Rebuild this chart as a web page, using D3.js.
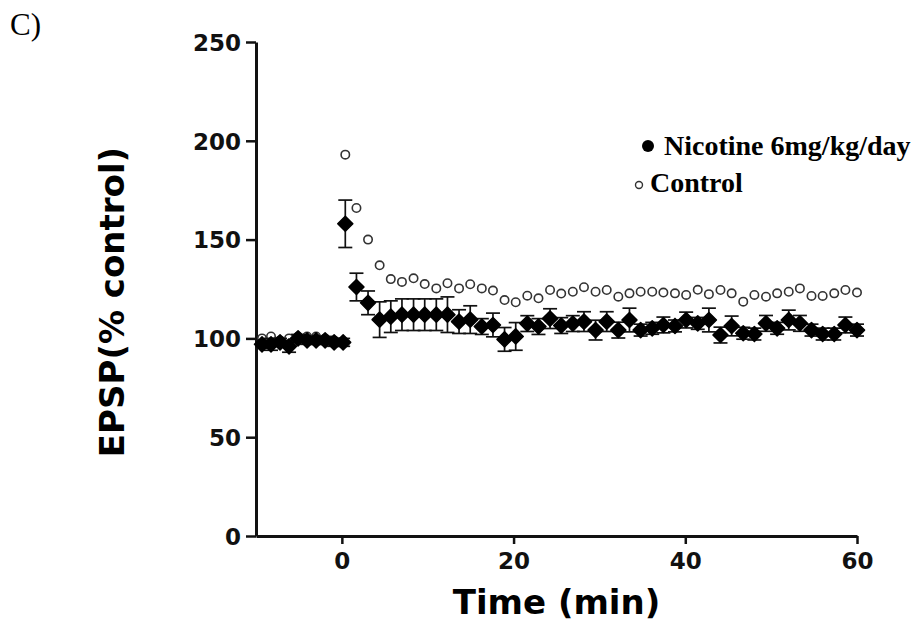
<!DOCTYPE html>
<html>
<head>
<meta charset="utf-8">
<script src="https://cdn.jsdelivr.net/npm/d3@7"></script>
<style>
  body { margin: 0; background: #fff; }
  svg { display: block; }
  .axis path, .axis line { stroke: #111; }
  .axis text { font-family: "DejaVu Sans", sans-serif; font-weight: bold; fill: #111; }
</style>
</head>
<body>
<svg id="chart" width="920" height="631"></svg>
<script>
// baseline period (min) then post-tetanus period (min)
var baseTime = [-9.3, -8.25, -7.2, -6.15, -5.1, -4.05, -3.0, -1.95, -0.9, 0.15];
var postTime = [0.4, 1.7, 3.05, 4.4, 5.7, 7.0, 8.35, 9.65, 11.0, 12.3, 13.65, 14.95, 16.3, 17.6, 18.95,
  20.25, 21.6, 22.9, 24.25, 25.55, 26.9, 28.2, 29.55, 30.85, 32.2, 33.5, 34.8, 36.15, 37.45, 38.8,
  40.1, 41.45, 42.75, 44.1, 45.4, 46.75, 48.05, 49.4, 50.7, 52.05, 53.35, 54.7, 56.0, 57.35, 58.65, 60.0];

var nicBase = [97, 97, 98, 96, 100, 99, 99, 99, 98, 98];
var nicBaseErr = [2, 3, 2, 3, 2, 2, 2, 2, 2, 2];
var nicPost = [158, 126, 118, 109.5, 111, 112, 112, 112, 112, 112, 108.5, 109.5, 106, 106.8, 99.5,
  101, 107.5, 106, 110, 106.5, 107.5, 108.5, 104.2, 108.5, 104.2, 109.3, 104.2, 105.1, 106.8, 106.3,
  109.3, 107.6, 109.3, 101.7, 106.3, 102.6, 102.2, 107.6, 105.1, 109.3, 107.6, 104.2, 102.2, 102.2, 106.8, 104.2];
var nicPostErr = [12, 7, 6, 9, 8, 8, 8, 8, 8, 9, 6, 7, 4, 6, 6,
  7, 4, 4, 5, 4, 4, 5, 5, 5, 4, 6, 3, 3, 4, 3,
  4, 3, 6, 4, 5, 3, 3, 4, 3, 5, 4, 3, 3, 3, 4, 3];

var ctlBase = [100, 101, 99, 100, 101, 101, 101, 100, 99, 98];
var ctlPost = [193, 166, 150, 137, 130, 128.6, 130.4, 127.5, 125.3, 127.9, 125.3, 127.4, 125.3, 124.2, 119.4,
  118.3, 121.6, 120.3, 124.5, 122.7, 123.6, 125.9, 123.6, 124.5, 121.1, 122.8, 123.6, 123.6, 123.2, 122.8,
  122, 124.6, 122.4, 124.5, 122.8, 118.6, 122, 121.1, 122.8, 123.6, 125.3, 121.5, 121.5, 122.8, 124.5, 123.2];

var yTicks = [0, 50, 100, 150, 200, 250];
var xTicks = [0, 20, 40, 60];
var legendLabels = ["Nicotine 6mg/kg/day", "Control"];

var times = baseTime.concat(postTime);
var nicotine = times.map(function(t, i){
  return {t: t, v: nicBase.concat(nicPost)[i], e: nicBaseErr.concat(nicPostErr)[i]};
});
var control = times.map(function(t, i){
  return {t: t, v: ctlBase.concat(ctlPost)[i]};
});

var svg = d3.select("#chart");

var x = d3.scaleLinear().domain([-10, 60]).range([256, 857]);
var y = d3.scaleLinear().domain([0, 250]).range([536, 42]);

// axes
var gy = svg.append("g")
  .attr("class", "axis")
  .attr("transform", "translate(" + x(-10) + ",0)")
  .call(d3.axisLeft(y).tickValues(yTicks).tickSize(10).tickSizeOuter(0).tickPadding(5));
gy.select(".domain").attr("stroke-width", 3);
gy.selectAll(".tick line").attr("stroke-width", 2.5);
gy.selectAll(".tick text").style("font-size", "23px").attr("dy", "0.36em");

var gx = svg.append("g")
  .attr("class", "axis")
  .attr("transform", "translate(0," + y(0) + ")")
  .call(d3.axisBottom(x).tickValues(xTicks).tickSize(8).tickSizeOuter(0).tickPadding(9));
gx.select(".domain").attr("stroke-width", 3);
gx.selectAll(".tick line").attr("stroke-width", 2.5);
gx.selectAll(".tick text").style("font-size", "23px");

// titles
svg.append("text")
  .attr("x", (x(-10) + x(60)) / 2)
  .attr("y", 614)
  .attr("text-anchor", "middle")
  .style("font-family", "DejaVu Sans, sans-serif")
  .style("font-weight", "bold")
  .style("font-size", "34px")
  .text("Time (min)");

svg.append("text")
  .attr("transform", "translate(124,302) rotate(-90)")
  .attr("text-anchor", "middle")
  .style("font-family", "DejaVu Sans, sans-serif")
  .style("font-weight", "bold")
  .style("font-size", "34px")
  .text("EPSP(% control)");

svg.append("text")
  .attr("x", 10)
  .attr("y", 35)
  .style("font-family", "Liberation Serif, serif")
  .style("font-size", "31px")
  .text("C)");

// control: open circles
svg.append("g").selectAll("circle")
  .data(control)
  .enter().append("circle")
  .attr("cx", function(d){ return x(d.t); })
  .attr("cy", function(d){ return y(d.v); })
  .attr("r", 4.2)
  .attr("fill", "#fff")
  .attr("stroke", "#333")
  .attr("stroke-width", 1.6);

// nicotine: error bars then filled diamonds
var bars = svg.append("g").attr("stroke", "#111").attr("stroke-width", 1.7);
nicotine.forEach(function(d){
  var cx = x(d.t), top = y(d.v + d.e), bot = y(d.v - d.e);
  bars.append("line").attr("x1", cx).attr("x2", cx).attr("y1", top).attr("y2", bot);
  bars.append("line").attr("x1", cx - 7).attr("x2", cx + 7).attr("y1", top).attr("y2", top);
  bars.append("line").attr("x1", cx - 7).attr("x2", cx + 7).attr("y1", bot).attr("y2", bot);
});

var diamond = d3.symbol().type(d3.symbolDiamond2).size(145);
svg.append("g").selectAll("path")
  .data(nicotine)
  .enter().append("path")
  .attr("d", diamond)
  .attr("transform", function(d){ return "translate(" + x(d.t) + "," + y(d.v) + ")"; })
  .attr("fill", "#000")
  .attr("stroke", "#000")
  .attr("stroke-width", 1.5)
  .attr("stroke-linejoin", "round");

// legend
var leg = svg.append("g").style("font-family", "Liberation Serif, serif")
  .style("font-weight", "bold").style("font-size", "28px");
leg.append("circle").attr("cx", 648).attr("cy", 146).attr("r", 6).attr("fill", "#000");
leg.append("circle").attr("cx", 639).attr("cy", 185).attr("r", 3.5)
  .attr("fill", "#fff").attr("stroke", "#333").attr("stroke-width", 1.4);
leg.append("text").attr("x", 664).attr("y", 155).text(legendLabels[0]);
leg.append("text").attr("x", 650).attr("y", 192).text(legendLabels[1]);
</script>
</body>
</html>
